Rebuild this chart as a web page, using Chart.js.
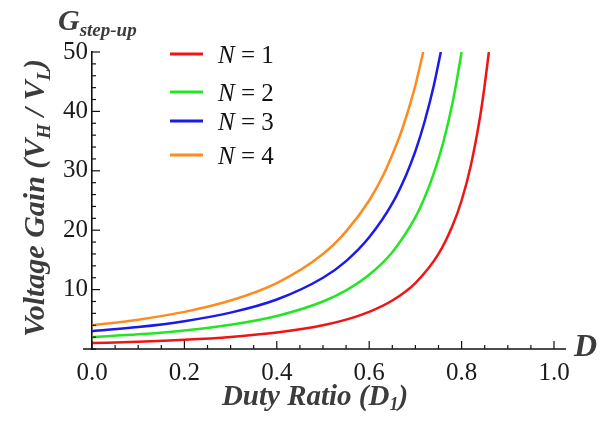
<!DOCTYPE html>
<html>
<head>
<meta charset="utf-8">
<script src="https://cdn.jsdelivr.net/npm/chart.js@4.4.1/dist/chart.umd.min.js"></script>
<style>
  html, body { margin: 0; padding: 0; background: #fff; }
  #wrap { width: 605px; height: 424px; }
</style>
</head>
<body>
<div id="wrap"><canvas id="gainChart" width="605" height="424"></canvas></div>
<script>
/* ---------------------------------------------------
    data
----------------------------------------------------- */
const seriesLabels = ["1", "2", "3", "4"];
const seriesColors = ["#f01414", "#22e622", "#1a1aea", "#ff8a1e"];

const dutyN1 = [0, 0.1, 0.2, 0.3, 0.4, 0.5, 0.55, 0.6, 0.65, 0.7, 0.75, 0.78, 0.8, 0.82, 0.84, 0.85, 0.859];
const gainN1 = [1, 1.23, 1.56, 2.04, 2.78, 4, 4.94, 6.25, 8.16, 11.1, 16, 20.7, 25, 30.9, 39.1, 44.4, 50];

const dutyN2 = [0, 0.1, 0.2, 0.3, 0.4, 0.5, 0.55, 0.6, 0.65, 0.7, 0.72, 0.74, 0.76, 0.78, 0.79, 0.8];
const gainN2 = [2, 2.47, 3.13, 4.08, 5.56, 8, 9.88, 12.5, 16.3, 22.2, 25.5, 29.6, 34.7, 41.3, 45.4, 50];

const dutyN3 = [0, 0.1, 0.2, 0.3, 0.4, 0.5, 0.55, 0.6, 0.65, 0.68, 0.7, 0.72, 0.74, 0.755];
const gainN3 = [3, 3.7, 4.69, 6.12, 8.33, 12, 14.8, 18.8, 24.5, 29.3, 33.3, 38.3, 44.4, 50];

const dutyN4 = [0, 0.1, 0.2, 0.3, 0.4, 0.5, 0.55, 0.6, 0.63, 0.65, 0.67, 0.69, 0.7, 0.717];
const gainN4 = [4, 4.94, 6.25, 8.16, 11.1, 16, 19.8, 25, 29.2, 32.7, 36.7, 41.6, 44.4, 50];

const xTickValues = [0, 0.2, 0.4, 0.6, 0.8, 1.0];
const yTickValues = [10, 20, 30, 40, 50];
const xMinorStep = 0.05;
const yMinorStep = 2;

const dutySets = [dutyN1, dutyN2, dutyN3, dutyN4];
const gainSets = [gainN1, gainN2, gainN3, gainN4];

/* ---------------------------------------------------
    helpers
----------------------------------------------------- */
const serif = "'Liberation Serif', 'DejaVu Serif', serif";
const titleColor = "#3c3c3c";

function drawParts(ctx, parts, x, y, align) {
  // parts: [{t, font, dy}]
  let total = 0;
  parts.forEach(p => { ctx.font = p.font; p.w = ctx.measureText(p.t).width; total += p.w; });
  let cx = align === "center" ? x - total / 2 : x;
  parts.forEach(p => {
    ctx.font = p.font;
    ctx.fillText(p.t, cx, y + (p.dy || 0));
    cx += p.w;
  });
}

/* ---------------------------------------------------
    plugin: inward ticks, axis line, titles, legend
----------------------------------------------------- */
const decorPlugin = {
  id: "decor",
  afterDraw(chart) {
    const ctx = chart.ctx;
    const xs = chart.scales.x;
    const ys = chart.scales.y;
    const area = chart.chartArea;
    ctx.save();
    ctx.strokeStyle = "#111";

    // x axis line, a bit longer than the plot
    ctx.lineWidth = 1.6;
    ctx.beginPath();
    ctx.moveTo(area.left - 9, area.bottom);
    ctx.lineTo(area.right + 12, area.bottom);
    ctx.stroke();

    // x ticks
    ctx.lineWidth = 1.2;
    for (let v = 0; v <= 1.0001; v += xMinorStep) {
      const px = xs.getPixelForValue(v);
      const major = xTickValues.some(t => Math.abs(t - v) < 1e-6);
      ctx.beginPath();
      ctx.moveTo(px, area.bottom);
      ctx.lineTo(px, area.bottom - (major ? 8 : 4));
      ctx.stroke();
    }
    // y ticks
    for (let v = 0; v <= 50.0001; v += yMinorStep) {
      const py = ys.getPixelForValue(v);
      const major = yTickValues.some(t => Math.abs(t - v) < 1e-6);
      ctx.beginPath();
      ctx.moveTo(area.left, py);
      ctx.lineTo(area.left + (major ? 8 : 4), py);
      ctx.stroke();
    }

    ctx.fillStyle = titleColor;
    ctx.textBaseline = "alphabetic";
    ctx.textAlign = "left";

    // G step-up at top left
    drawParts(ctx, [
      { t: "G", font: "bold italic 30px " + serif },
      { t: "step-up", font: "bold italic 19px " + serif, dy: 6 }
    ], 58, 30, "left");

    // D at end of x axis
    ctx.font = "bold italic 32px " + serif;
    ctx.fillText("D", 574, 356);

    // x title
    drawParts(ctx, [
      { t: "Duty Ratio (", font: "bold italic 29px " + serif },
      { t: "D", font: "bold italic 29px " + serif },
      { t: "1", font: "bold italic 18px " + serif, dy: 5 },
      { t: ")", font: "bold italic 29px " + serif }
    ], (area.left + area.right) / 2 - 8, 405, "center");

    // y title, rotated
    ctx.save();
    ctx.translate(44, 198);
    ctx.rotate(-Math.PI / 2);
    drawParts(ctx, [
      { t: "Voltage Gain (V", font: "bold italic 30px " + serif },
      { t: "H", font: "bold italic 19px " + serif, dy: 6 },
      { t: " / V", font: "bold italic 30px " + serif },
      { t: "L", font: "bold italic 19px " + serif, dy: 6 },
      { t: ")", font: "bold italic 30px " + serif }
    ], 0, 0, "center");
    ctx.restore();

    // legend
    const legendY = [54, 92, 121, 155];
    ctx.fillStyle = "#111";
    chart.data.datasets.forEach((ds, i) => {
      ctx.strokeStyle = ds.borderColor;
      ctx.lineWidth = 3;
      ctx.beginPath();
      ctx.moveTo(170, legendY[i]);
      ctx.lineTo(203, legendY[i]);
      ctx.stroke();
      drawParts(ctx, [
        { t: "N", font: "italic 25px " + serif },
        { t: " = " + seriesLabels[i], font: "25px " + serif }
      ], 218, legendY[i] + 9, "left");
    });

    ctx.restore();
  }
};

/* ---------------------------------------------------
    chart
----------------------------------------------------- */
function makeChart() {
  const datasets = dutySets.map((duty, i) => ({
    label: "N = " + seriesLabels[i],
    data: duty.map((d, k) => ({ x: d, y: gainSets[i][k] })),
    borderColor: seriesColors[i],
    backgroundColor: seriesColors[i],
    borderWidth: 2.5,
    pointRadius: 0,
    showLine: true,
    cubicInterpolationMode: "monotone",
    fill: false
  }));

  new Chart(document.getElementById("gainChart"), {
    type: "scatter",
    data: { datasets: datasets },
    options: {
      responsive: false,
      animation: false,
      layout: { padding: { left: 0, right: 51, top: 52, bottom: 0 } },
      plugins: {
        legend: { display: false },
        tooltip: { enabled: false }
      },
      scales: {
        x: {
          type: "linear",
          min: 0,
          max: 1,
          afterFit: s => { s.height = 75; },
          afterBuildTicks: s => { s.ticks = xTickValues.map(v => ({ value: v })); },
          grid: { display: false, drawTicks: false },
          border: { display: false },
          ticks: {
            padding: 9,
            color: "#1a1a1a",
            font: { family: serif, size: 25 },
            callback: v => Number(v).toFixed(1)
          }
        },
        y: {
          type: "linear",
          min: 0,
          max: 50,
          afterFit: s => { s.width = 92; },
          afterBuildTicks: s => { s.ticks = yTickValues.map(v => ({ value: v })); },
          grid: { display: false, drawTicks: false },
          border: { display: true, color: "#111", width: 1.6 },
          ticks: {
            padding: 4,
            color: "#1a1a1a",
            font: { family: serif, size: 25 },
            callback: v => String(v)
          }
        }
      }
    },
    plugins: [decorPlugin]
  });
}

Promise.all([
  document.fonts.load("25px 'Liberation Serif'"),
  document.fonts.load("italic 25px 'Liberation Serif'"),
  document.fonts.load("bold italic 30px 'Liberation Serif'")
]).then(makeChart, makeChart);
</script>
</body>
</html>
